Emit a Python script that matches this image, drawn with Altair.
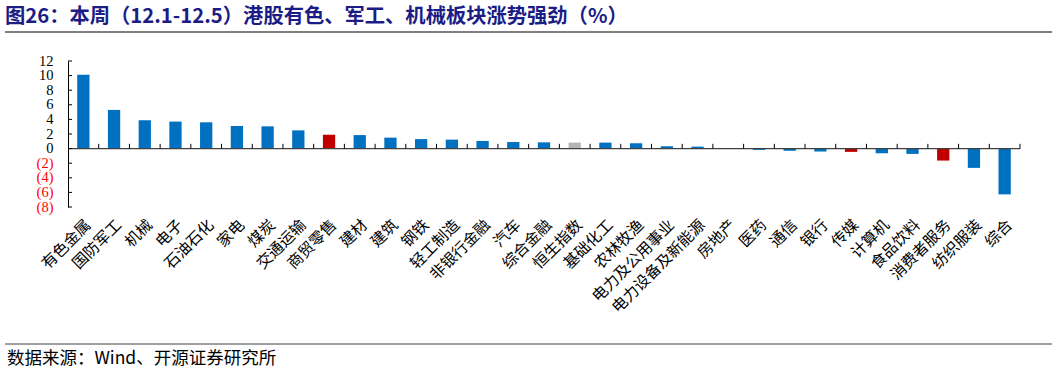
import altair as alt
import pandas as pd

# ---- data ----
categories = ["有色金属", "国防军工", "机械", "电子", "石油石化", "家电", "煤炭", "交通运输",
              "商贸零售", "建材", "建筑", "钢铁", "轻工制造", "非银行金融", "汽车", "综合金融",
              "恒生指数", "基础化工", "农林牧渔", "电力及公用事业", "电力设备及新能源", "房地产",
              "医药", "通信", "银行", "传媒", "计算机", "食品饮料", "消费者服务", "纺织服装", "综合"]
values = [10.1, 5.3, 3.9, 3.7, 3.6, 3.1, 3.05, 2.5,
          1.9, 1.85, 1.5, 1.3, 1.23, 1.05, 0.9, 0.86,
          0.82, 0.82, 0.73, 0.32, 0.27, 0.02,
          -0.18, -0.3, -0.4, -0.45, -0.64, -0.73, -1.64, -2.64, -6.27]
highlight_red = ["商贸零售", "传媒", "消费者服务"]
benchmark = ["恒生指数"]
y_ticks = [-8, -6, -4, -2, 0, 2, 4, 6, 8, 10, 12]

title_text = "图26：本周（12.1-12.5）港股有色、军工、机械板块涨势强劲（%）"
source_text = "数据来源：Wind、开源证券研究所"

# ---- tables ----
df = pd.DataFrame({"industry": categories, "change": values})
df["group"] = ["red" if c in highlight_red else ("grey" if c in benchmark else "blue")
               for c in categories]
ticks_df = pd.DataFrame({"t": y_ticks})
one = pd.DataFrame({"k": [0]})

W, H = 952, 146
STEP = W / len(categories)
CJK = "Noto Sans CJK SC"
SERIF = "Liberation Serif"

x_scale = alt.Scale(domain=categories, paddingInner=0.6, paddingOuter=0.3)
y_scale = alt.Scale(domain=[-8, 12], nice=False, zero=False)

x_axis = alt.Axis(title=None, labelAngle=-45, domain=False, ticks=False,
                  labelFont=CJK, labelFontSize=15.5, labelColor="#000000",
                  labelPadding=10, labelLimit=0, labelOverlap=False)
y_axis = alt.Axis(title=None, values=y_ticks, grid=False, ticks=False,
                  domain=True, domainColor="#000000", domainWidth=1,
                  labelFont=SERIF, labelFontSize=14.5, labelPadding=15,
                  labelOverlap=False, labelFlush=False, labelBound=False,
                  labelExpr="datum.value < 0 ? '(' + abs(datum.value) + ')' : datum.value",
                  labelColor=alt.condition("datum.value < 0",
                                           alt.value("#FF0000"), alt.value("#000000")))

bars = alt.Chart(df).mark_bar().encode(
    x=alt.X("industry:N", sort=categories, scale=x_scale, axis=x_axis),
    y=alt.Y("change:Q", scale=y_scale, axis=y_axis),
    color=alt.Color("group:N", scale=alt.Scale(domain=["blue", "red", "grey"],
                                               range=["#0070C0", "#C00000", "#B4B4B4"]),
                    legend=None),
)

zero_line = alt.Chart(one).mark_rule(color="#404040", strokeWidth=1.2).encode(
    y=alt.Y(datum=0, scale=y_scale, axis=y_axis), x=alt.value(0), x2=alt.value(W)
)

x_ticks = alt.Chart(df).mark_rule(color="#000000", strokeWidth=1, xOffset=STEP / 2).encode(
    x=alt.X("industry:N", sort=categories, scale=x_scale, axis=x_axis),
    y=alt.Y(datum=0, scale=y_scale, axis=y_axis), y2=alt.datum(0.65)
)

y_tick_marks = alt.Chart(ticks_df).mark_rule(color="#000000", strokeWidth=1).encode(
    y=alt.Y("t:Q", scale=y_scale, axis=y_axis), x=alt.value(0), x2=alt.value(4)
)

title = alt.Chart(one).mark_text(
    text=title_text, font=CJK, fontSize=20.3, fontWeight="bold", color="#1C1C86",
    align="left", baseline="middle"
).encode(x=alt.value(-63), y=alt.value(-44))

title_rule = alt.Chart(one).mark_rule(color="#7F7F7F", strokeWidth=2).encode(
    x=alt.value(-63), x2=alt.value(984), y=alt.value(-29)
)

foot_rule = alt.Chart(one).mark_rule(color="#404040", strokeWidth=1).encode(
    x=alt.value(-63), x2=alt.value(984), y=alt.value(283)
)

source = alt.Chart(one).mark_text(
    text=source_text, font=CJK, fontSize=17.5, color="#000000",
    align="left", baseline="middle"
).encode(x=alt.value(-61), y=alt.value(298))

chart = alt.layer(
    bars, zero_line, x_ticks, y_tick_marks, title, title_rule, foot_rule, source
).properties(
    width=W, height=H,
    autosize=alt.AutoSizeParams(type="none"),
    padding={"left": 68, "top": 61, "right": 37, "bottom": 167},
).configure_view(stroke=None).configure_axisY(labelOverlap=False).configure_axisX(labelOverlap=False)

chart.save("out.html", embed_options={"renderer": "svg", "actions": False})
